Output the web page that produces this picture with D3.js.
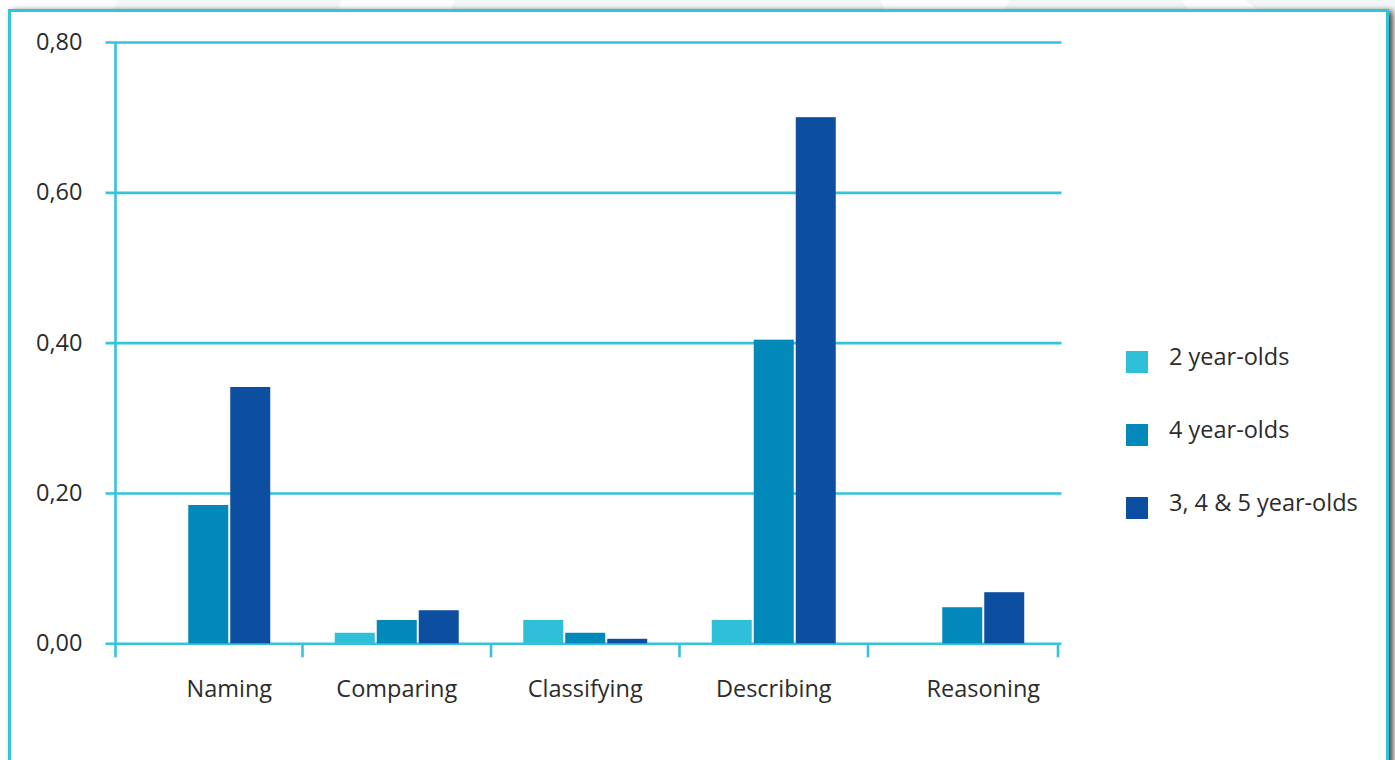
<!DOCTYPE html>
<html>
<head>
<meta charset="utf-8">
<script src="https://cdn.jsdelivr.net/npm/d3@7"></script>
<style>
  html, body { margin: 0; padding: 0; background: #ffffff; overflow: hidden; }
  svg { display: block; }
  text { font-family: "Open Sans", "Noto Sans", sans-serif; fill: #2b2b2b; }
</style>
</head>
<body>
<svg id="chart" width="1395" height="760"></svg>
<script>
// Category labels along the x axis
const categories = ["Naming", "Comparing", "Classifying", "Describing", "Reasoning"];
// One series per age group (share of utterances), in category order
const seriesNames = ["2 year-olds", "4 year-olds", "3, 4 & 5 year-olds"];
const twoYearOlds = [0, 0.014, 0.031, 0.031, 0];
const fourYearOlds = [0.184, 0.031, 0.014, 0.404, 0.048];
const threeToFiveYearOlds = [0.341, 0.044, 0.006, 0.700, 0.068];
const seriesColors = ["#2fbfd9", "#0288b9", "#0c4fa1"];
// Y axis ticks
const yTicks = [0, 0.2, 0.4, 0.6, 0.8];

const seriesValues = [twoYearOlds, fourYearOlds, threeToFiveYearOlds];
const rows = categories.map((c, i) => ({
  category: c,
  values: seriesNames.map((s, j) => ({ series: s, value: seriesValues[j][i], color: seriesColors[j] }))
}));

const svg = d3.select("#chart");
const axisColor = "#35c3dc";
const fontSize = 23.5;

// Drop shadow for the card
const defs = svg.append("defs");
const shadow = defs.append("filter").attr("id", "cardShadow")
  .attr("x", "-5%").attr("y", "-5%").attr("width", "110%").attr("height", "110%");
shadow.append("feGaussianBlur").attr("in", "SourceAlpha").attr("stdDeviation", 3).attr("result", "blur");
shadow.append("feOffset").attr("in", "blur").attr("dx", 4).attr("dy", 2).attr("result", "off");
shadow.append("feComponentTransfer").attr("in", "off").attr("result", "dim")
  .append("feFuncA").attr("type", "linear").attr("slope", 0.75);
const merge = shadow.append("feMerge");
merge.append("feMergeNode").attr("in", "dim");
merge.append("feMergeNode").attr("in", "SourceGraphic");

// Soft background shapes above the card
const bgShapes = [
  [[118, 0], [342, 0], [336, 12], [112, 12]],
  [[455, 0], [880, 0], [886, 12], [450, 12]],
  [[1010, 0], [1180, 0], [1192, 12], [1002, 12]],
  [[1245, 0], [1395, 0], [1395, 12], [1260, 12]]
];
svg.append("g").selectAll("polygon").data(bgShapes).join("polygon")
  .attr("points", d => d.map(p => p.join(",")).join(" "))
  .attr("fill", "#f1f6f7");

// Card with cyan frame
svg.append("rect")
  .attr("x", 9.5).attr("y", 10.5).attr("width", 1378).attr("height", 800)
  .attr("fill", "#ffffff").attr("stroke", axisColor).attr("stroke-width", 3)
  .attr("filter", "url(#cardShadow)");

const plot = { left: 115.5, right: 1058, top: 42, bottom: 643.3 };

const x0 = d3.scaleBand().domain(categories).range([plot.left, plot.right]).paddingInner(0).paddingOuter(0);
const barW = 40, barGap = 2;
const x1 = d3.scaleBand().domain(seriesNames)
  .range([0, 3 * barW + 2 * barGap]).paddingInner(barGap / (barW + barGap)).paddingOuter(0);
const y = d3.scaleLinear().domain([0, 0.8]).range([plot.bottom, plot.top]);
const groupX = c => x0(c) + (x0.bandwidth() - x1.range()[1]) / 2 - 1.5;

// Horizontal gridlines with short left ticks
const yAxis = d3.axisLeft(y).tickValues(yTicks)
  .tickSize(-(1061.5 - plot.left)).tickSizeOuter(0)
  .tickFormat(d => d3.format(".2f")(d).replace(".", ","));
const gy = svg.append("g").attr("transform", `translate(${plot.left},0)`).call(yAxis);
gy.select(".domain").remove();
gy.selectAll(".tick line").attr("stroke", axisColor).attr("stroke-width", 2.6)
  .attr("x1", -10);
gy.selectAll(".tick text").attr("font-size", fontSize).attr("fill", "#2b2b2b")
  .attr("x", -33).attr("dy", "0.32em");

// Vertical axis line
svg.append("line")
  .attr("x1", plot.left).attr("x2", plot.left)
  .attr("y1", y(0.8)).attr("y2", plot.bottom + 14)
  .attr("stroke", axisColor).attr("stroke-width", 2.6);

// Bars
const groups = svg.append("g").selectAll("g").data(rows).join("g")
  .attr("transform", d => `translate(${groupX(d.category)},0)`);
groups.selectAll("rect").data(d => d.values.filter(v => v.value > 0)).join("rect")
  .attr("x", d => x1(d.series))
  .attr("width", x1.bandwidth())
  .attr("y", d => y(d.value))
  .attr("height", d => y(0) - y(d.value))
  .attr("fill", d => d.color);

// Category axis: labels centred under the drawn bars, boundary ticks between bands
const xAxis = d3.axisBottom(x0).tickSize(0).tickPadding(37);
const gx = svg.append("g").attr("transform", `translate(0,${plot.bottom})`).call(xAxis);
gx.select(".domain").remove();
gx.selectAll(".tick")
  .attr("transform", c => {
    const row = rows.find(r => r.category === c);
    const drawn = row.values.filter(v => v.value > 0);
    const lo = d3.min(drawn, v => x1(v.series));
    const hi = d3.max(drawn, v => x1(v.series) + x1.bandwidth());
    return `translate(${groupX(c) + (lo + hi) / 2},0)`;
  });
gx.selectAll(".tick text").attr("font-size", fontSize).attr("fill", "#2b2b2b");
const boundaries = categories.slice(1).map(c => x0(c) - 1.5).concat([plot.right]);
gx.selectAll(".bound").data(boundaries).join("line").attr("class", "bound")
  .attr("x1", d => d).attr("x2", d => d).attr("y1", 0).attr("y2", 14)
  .attr("stroke", axisColor).attr("stroke-width", 2.6);

// Legend
const legend = svg.append("g").selectAll("g").data(seriesNames).join("g")
  .attr("transform", (d, i) => `translate(1126,${351 + i * 73})`);
legend.append("rect").attr("width", 22).attr("height", 22)
  .attr("fill", (d, i) => seriesColors[i]);
legend.append("text").attr("x", 43).attr("y", 6).attr("dy", "0.32em")
  .attr("font-size", fontSize).text(d => d);
</script>
</body>
</html>
